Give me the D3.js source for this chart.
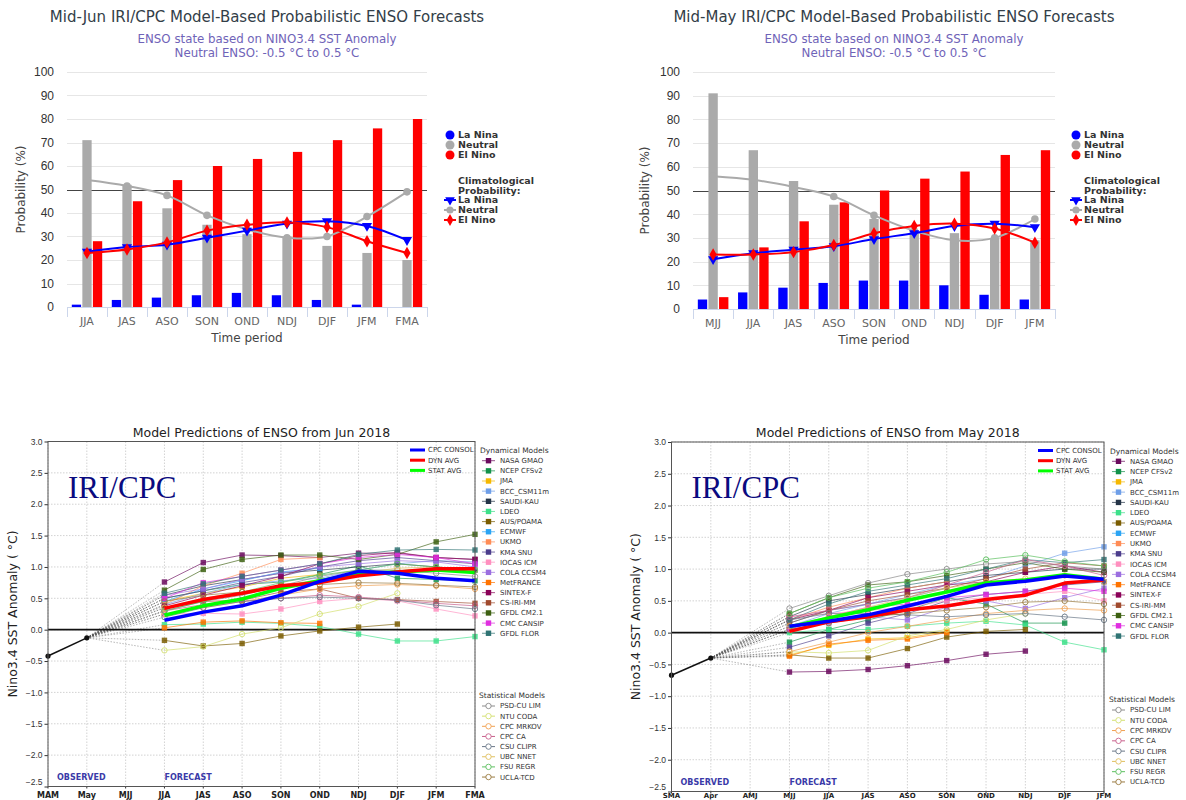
<!DOCTYPE html>
<html>
<head>
<meta charset="utf-8">
<script src="https://cdn.jsdelivr.net/npm/d3@7"></script>
<style>
  body { margin: 0; background: #fff; }
  svg { display: block; }
</style>
</head>
<body>
<script>
// ---------------- data: probabilistic forecasts (top row) ----------------
var junPeriods = ["JJA","JAS","ASO","SON","OND","NDJ","DJF","JFM","FMA"];
var junLaNina  = [1, 3, 4, 5, 6, 5, 3, 1, 0];
var junNeutral = [71, 52, 42, 35, 31, 30, 26, 23, 20];
var junElNino  = [28, 45, 54, 60, 63, 66, 71, 76, 80];
var junClimLaNina  = [23.5, 25.5, 26.5, 29.5, 32.5, 35.5, 36.5, 34.5, 28.5];
var junClimNeutral = [54, 51.5, 47.5, 39, 33, 29.5, 30, 38.5, 49];
var junClimElNino  = [23, 24.5, 27.5, 32.5, 35, 36, 34, 28, 23];

var mayPeriods = ["MJJ","JJA","JAS","ASO","SON","OND","NDJ","DJF","JFM"];
var mayLaNina  = [4, 7, 9, 11, 12, 12, 10, 6, 4];
var mayNeutral = [91, 67, 54, 44, 38, 33, 32, 30, 29];
var mayElNino  = [5, 26, 37, 45, 50, 55, 58, 65, 67];
var mayClimLaNina  = [21, 23.5, 25, 26.5, 29.5, 32, 35, 36, 34.5];
var mayClimNeutral = [56, 54.5, 51.5, 47.5, 39.5, 33, 29, 30, 38];
var mayClimElNino  = [23, 23, 24, 27, 32, 35, 36, 34, 28];

// ---------------- data: model plumes (bottom row) ----------------
var junSeasons  = ["MAM","May","MJJ","JJA","JAS","ASO","SON","OND","NDJ","DJF","JFM","FMA"];
var junObserved = [-0.42, -0.13];
var junConsol   = [0.15, 0.28, 0.38, 0.55, 0.77, 0.93, 0.90, 0.82, 0.78];
var junDynAvg   = [0.34, 0.48, 0.58, 0.70, 0.75, 0.86, 0.92, 0.97, 0.97];
var junStatAvg  = [0.23, 0.38, 0.49, 0.66, 0.78, 0.89, 0.92, 0.95, 0.91];

var maySeasons  = ["SMA","Apr","AMJ","MJJ","JJA","JAS","ASO","SON","OND","NDJ","DJF","JFM"];
var mayObserved = [-0.67, -0.40];
var mayConsol   = [0.10, 0.18, 0.28, 0.42, 0.57, 0.75, 0.81, 0.89, 0.84];
var mayDynAvg   = [0.02, 0.17, 0.25, 0.36, 0.42, 0.52, 0.59, 0.78, 0.83];
var mayStatAvg  = [0.09, 0.23, 0.36, 0.51, 0.64, 0.78, 0.83, 0.91, 0.84];

var dynModels = ["NASA GMAO","NCEP CFSv2","JMA","BCC_CSM11m","SAUDI-KAU","LDEO","AUS/POAMA","ECMWF","UKMO",
                 "KMA SNU","IOCAS ICM","COLA CCSM4","MetFRANCE","SINTEX-F","CS-IRI-MM","GFDL CM2.1","CMC CANSIP","GFDL FLOR"];
var statModels = ["PSD-CU LIM","NTU CODA","CPC MRKOV","CPC CA","CSU CLIPR","UBC NNET","FSU REGR","UCLA-TCD"];

// one row per model, same order as the names above (null = no forecast)
var junDynRuns = [
  [0.76, 1.07, 1.19, 1.18, 1.15, 1.22, 1.22, 1.15, 1.12],
  [0.50, 0.62, 0.72, 0.76, 0.88, 1.02, 0.82, 0.80, 0.78],
  [0.45, 0.58, 0.68, 0.82, 0.88, null, null, null, null],
  [0.40, 0.58, 0.72, 0.78, 0.82, 0.95, 1.05, 1.10, 1.08],
  [0.55, 0.70, 0.80, 0.90, 0.95, 1.00, 1.05, 1.00, 0.95],
  [0.08, 0.09, 0.12, 0.10, 0.05, -0.07, -0.18, -0.18, -0.11],
  [-0.17, -0.26, -0.22, -0.10, -0.02, 0.04, 0.09, null, null],
  [0.45, 0.65, 0.78, 0.92, 0.98, null, null, null, null],
  [0.40, 0.70, 0.90, 1.12, 1.15, null, null, null, null],
  [0.50, 0.62, 0.75, 0.85, 1.00, 1.10, 1.15, 1.10, 1.05],
  [0.25, 0.26, 0.25, 0.33, 0.45, 0.50, 0.46, 0.33, 0.22],
  [0.55, 0.65, 0.80, 0.90, 1.00, 1.05, 1.10, 1.08, 1.00],
  [0.03, 0.12, 0.14, 0.11, 0.10, null, null, null, null],
  [0.38, 0.55, 0.70, 0.85, 1.05, 1.18, 1.23, 1.15, 1.12],
  [0.35, 0.45, 0.47, 0.60, 0.65, 0.50, 0.48, 0.45, 0.42],
  [0.63, 0.96, 1.12, 1.19, 1.19, 1.12, 1.20, 1.40, 1.52],
  [0.50, 0.75, 0.85, 0.95, 1.05, 1.15, 1.20, 1.15, 1.05],
  [0.58, 0.73, 0.85, 0.95, 1.05, 1.20, 1.27, 1.28, 1.27]
];
var junStatRuns = [
  [0.30, 0.45, 0.55, 0.70, 0.85, 0.95, 0.95, 0.90, 0.85],
  [-0.33, -0.27, -0.07, 0.03, 0.25, 0.37, 0.58, null, null],
  [0.25, 0.35, 0.45, 0.55, 0.65, 0.70, 0.72, 0.70, 0.65],
  [0.30, 0.40, 0.45, 0.50, 0.55, 0.52, 0.47, 0.42, 0.38],
  [0.20, 0.35, 0.45, 0.50, 0.52, 0.50, 0.47, 0.39, 0.33],
  [0.35, 0.50, 0.60, 0.70, 0.80, 0.90, 0.98, 1.00, 0.95],
  [0.30, 0.45, 0.60, 0.75, 0.87, 0.95, 1.05, 1.00, 0.95],
  [0.45, 0.55, 0.60, 0.70, 0.72, 0.75, 0.74, 0.71, 0.68]
];
var mayDynRuns = [
  [-0.62, -0.61, -0.58, -0.52, -0.44, -0.34, -0.29, null, null],
  [-0.15, 0.05, 0.20, 0.35, 0.55, 0.45, 0.15, 0.15, null],
  [-0.35, -0.20, -0.10, -0.08, 0.02, null, null, null, null],
  [0.10, 0.30, 0.45, 0.60, 0.75, 0.85, 1.05, 1.25, 1.35],
  [0.25, 0.50, 0.60, 0.70, 0.80, 0.90, 0.95, 1.00, 1.00],
  [0.00, 0.05, 0.05, 0.10, 0.15, 0.18, 0.12, -0.15, -0.27],
  [-0.35, -0.40, -0.40, -0.25, -0.07, 0.02, 0.05, null, null],
  [0.15, 0.35, 0.45, 0.55, 0.70, null, null, null, null],
  [0.20, 0.40, 0.55, 0.70, 0.80, null, null, null, null],
  [-0.23, -0.05, 0.15, 0.30, 0.50, 0.60, 0.65, 0.75, 0.80],
  [0.25, 0.30, 0.35, 0.40, 0.50, 0.55, 0.60, 0.65, 0.50],
  [0.05, 0.15, 0.25, 0.20, 0.40, 0.50, 0.38, 0.55, 0.70],
  [-0.37, -0.18, -0.12, -0.10, 0.00, null, null, null, null],
  [0.20, 0.35, 0.55, 0.65, 0.75, 0.80, 0.95, 1.05, 0.95],
  [0.15, 0.35, 0.50, 0.60, 0.70, 0.85, 1.00, 1.10, 1.05],
  [0.30, 0.55, 0.75, 0.80, 0.90, 1.00, 1.10, 1.00, 0.95],
  [0.05, 0.25, 0.40, 0.45, 0.55, 0.60, 0.65, 0.70, 0.65],
  [0.20, 0.45, 0.65, 0.75, 0.85, 1.00, 1.15, 1.10, 1.15]
];
var mayStatRuns = [
  [0.38, 0.58, 0.78, 0.92, 1.00, 1.08, 1.12, 1.05, 1.00],
  [-0.30, -0.32, -0.28, -0.05, 0.05, 0.20, 0.30, null, null],
  [-0.30, -0.15, 0.00, 0.10, 0.20, 0.30, 0.35, 0.38, 0.35],
  [0.25, 0.35, 0.45, 0.55, 0.75, 0.95, 1.15, 1.05, 0.90],
  [0.20, 0.30, 0.30, 0.28, 0.25, 0.28, 0.30, 0.25, 0.20],
  [0.10, 0.25, 0.40, 0.55, 0.70, 0.80, 0.85, 0.90, 0.80],
  [0.30, 0.55, 0.70, 0.80, 0.95, 1.15, 1.22, 1.12, 1.05],
  [0.05, 0.15, 0.25, 0.30, 0.35, 0.40, 0.48, 0.50, 0.45]
];

// colours (kept apart from the values)
var dynColors  = ["#6b0a5e","#12914a","#f5b800","#6e9ee8","#243447","#3de08a","#7a5c00","#2aa4f4","#ff8c55",
                  "#4b3c8c","#ff8fbf","#9b6ee0","#ff7300","#8a0057","#a0492d","#3c6010","#e02ee0","#2f7373"];
var statColors = ["#8a8a8a","#d4e070","#f0a050","#c8608c","#6a7888","#e0c060","#5cc060","#9a7a40"];

(function(){

var svg = d3.select("body").append("svg")
    .attr("width", 1186)
    .attr("height", 800);

// top row
drawProbChart({
  periods: junPeriods, laNina: junLaNina, neutral: junNeutral, elNino: junElNino,
  climLaNina: junClimLaNina, climNeutral: junClimNeutral, climElNino: junClimElNino,
  title: "Mid-Jun IRI/CPC Model-Based Probabilistic ENSO Forecasts",
  left: 67, right: 427, top: 72, bottom: 307, titleX: 267, yTitleX: 21, legendX: 450
});
drawProbChart({
  periods: mayPeriods, laNina: mayLaNina, neutral: mayNeutral, elNino: mayElNino,
  climLaNina: mayClimLaNina, climNeutral: mayClimNeutral, climElNino: mayClimElNino,
  title: "Mid-May IRI/CPC Model-Based Probabilistic ENSO Forecasts",
  left: 693, right: 1055, top: 72, bottom: 309, titleX: 894, yTitleX: 645, legendX: 1076
});

// bottom row
drawPlume({
  seasons: junSeasons, observed: junObserved, consol: junConsol, dynAvg: junDynAvg, statAvg: junStatAvg,
  dynRuns: junDynRuns, statRuns: junStatRuns,
  title: "Model Predictions of ENSO from Jun 2018",
  left: 48, right: 475, top: 441.5, bottom: 786.5, yTitleX: 13, xLabelY: 797.5, xLabelSize: 8,
  avgLegX: 410, modLegX: 480, dynTop: 460.7, dynStep: 10.15, statTitleY: 695.3, statTop: 706
});
drawPlume({
  seasons: maySeasons, observed: mayObserved, consol: mayConsol, dynAvg: mayDynAvg, statAvg: mayStatAvg,
  dynRuns: mayDynRuns, statRuns: mayStatRuns,
  title: "Model Predictions of ENSO from May 2018",
  left: 671.5, right: 1104, top: 442, bottom: 791.5, yTitleX: 636, xLabelY: 798, xLabelSize: 7,
  avgLegX: 1038, modLegX: 1110, dynTop: 461.3, dynStep: 10.28, statTitleY: 699.3, statTop: 710
});

// ---------- Highcharts-looking probability chart ----------
function drawProbChart(c){
  var g = svg.append("g").style("font-family", "'DejaVu Sans', sans-serif");
  var series = ["La Nina","Neutral","El Nino"];
  var colors = {"La Nina": "#0000ff", "Neutral": "#aaaaaa", "El Nino": "#ff0000"};

  var x0 = d3.scaleBand().domain(c.periods).range([c.left, c.right]);
  var bw = x0.bandwidth();
  var x1 = d3.scaleBand().domain(series).range([bw * 0.12, bw * 0.88]).paddingInner(0.12);
  var y = d3.scaleLinear().domain([0, 100]).range([c.bottom, c.top]);

  // titles
  g.append("text").attr("x", c.titleX).attr("y", 22).attr("text-anchor", "middle")
    .style("font-size", "15px").style("fill", "#333e48").text(c.title);
  g.append("text").attr("x", c.titleX).attr("y", 43).attr("text-anchor", "middle")
    .style("font-size", "11.8px").style("fill", "#6f63b8").text("ENSO state based on NINO3.4 SST Anomaly");
  g.append("text").attr("x", c.titleX).attr("y", 57).attr("text-anchor", "middle")
    .style("font-size", "11.8px").style("fill", "#6f63b8").text("Neutral ENSO: -0.5 °C to 0.5 °C");

  // gridlines (50% line is darker)
  g.selectAll(".grid").data(y.ticks(10)).enter().append("line")
    .attr("x1", c.left).attr("x2", c.right)
    .attr("y1", function(d){ return Math.round(y(d)) + 0.5; })
    .attr("y2", function(d){ return Math.round(y(d)) + 0.5; })
    .attr("stroke", function(d){ return d == 50 ? "#444" : "#e6e6e6"; })
    .attr("stroke-width", function(d){ return d == 50 ? 1.2 : 1; });

  // y axis labels
  var yAxis = g.append("g").attr("transform", "translate(" + c.left + ",0)")
    .call(d3.axisLeft(y).ticks(10).tickSize(0).tickPadding(13));
  yAxis.select(".domain").remove();
  yAxis.selectAll("text").style("font-size", "12px").style("fill", "#333").style("font-family", "inherit");

  g.append("text")
    .attr("transform", "translate(" + c.yTitleX + "," + (c.top + c.bottom) / 2 + ") rotate(-90)")
    .attr("text-anchor", "middle").attr("dy", "0.35em")
    .style("font-size", "12px").style("fill", "#444").text("Probability (%)");

  // bars
  var barData = {"La Nina": c.laNina, "Neutral": c.neutral, "El Nino": c.elNino};
  series.forEach(function(s){
    g.selectAll(".bar" + s.replace(" ", "")).data(barData[s]).enter().append("rect")
      .attr("x", function(d, i){ return x0(c.periods[i]) + x1(s); })
      .attr("width", x1.bandwidth())
      .attr("y", function(d){ return y(d); })
      .attr("height", function(d){ return c.bottom - y(d); })
      .attr("fill", colors[s]);
  });

  // x axis
  g.append("line").attr("x1", c.left).attr("x2", c.right)
    .attr("y1", c.bottom + 0.5).attr("y2", c.bottom + 0.5).attr("stroke", "#ccd6eb");
  var bounds = c.periods.map(function(p){ return x0(p); }).concat([c.right]);
  g.selectAll(".xtick").data(bounds).enter().append("line")
    .attr("x1", function(d){ return Math.round(d) + 0.5; }).attr("x2", function(d){ return Math.round(d) + 0.5; })
    .attr("y1", c.bottom).attr("y2", c.bottom + 10).attr("stroke", "#ccd6eb");
  g.selectAll(".xlab").data(c.periods).enter().append("text")
    .attr("x", function(d){ return x0(d) + bw / 2; }).attr("y", c.bottom + 18)
    .attr("text-anchor", "middle").style("font-size", "11px").style("fill", "#666").text(function(d){ return d; });
  g.append("text").attr("x", (c.left + c.right) / 2).attr("y", c.bottom + 35)
    .attr("text-anchor", "middle").style("font-size", "12px").style("fill", "#444").text("Time period");

  // climatological splines
  var cx = function(d, i){ return x0(c.periods[i]) + bw / 2; };
  var line = d3.line().x(cx).y(function(d){ return y(d); }).curve(d3.curveCatmullRom);
  var clim = [
    {vals: c.climNeutral, color: "#aaaaaa", sym: d3.symbolCircle, rot: 0},
    {vals: c.climLaNina, color: "#0000ff", sym: d3.symbolTriangle, rot: 180},
    {vals: c.climElNino, color: "#ff0000", sym: d3.symbolDiamond, rot: 0}
  ];
  clim.forEach(function(s){
    g.append("path").datum(s.vals).attr("d", line)
      .attr("fill", "none").attr("stroke", s.color).attr("stroke-width", 2);
    g.selectAll(null).data(s.vals).enter().append("path")
      .attr("d", d3.symbol().type(s.sym).size(45))
      .attr("transform", function(d, i){ return "translate(" + cx(d, i) + "," + y(d) + ") rotate(" + s.rot + ")"; })
      .attr("fill", s.color);
  });

  // legend
  var lx = c.legendX, tx = c.legendX + 8;
  var leg = g.append("g").style("font-size", "9.5px").style("font-weight", "bold").style("fill", "#333");
  series.forEach(function(s, i){
    leg.append("circle").attr("cx", lx).attr("cy", 135 + i * 10).attr("r", 4.5).attr("fill", colors[s]);
    leg.append("text").attr("x", tx).attr("y", 135 + i * 10).attr("dy", "0.35em").text(s);
  });
  leg.append("text").attr("x", tx).attr("y", 181).attr("dy", "0.35em").text("Climatological");
  leg.append("text").attr("x", tx).attr("y", 191).attr("dy", "0.35em").text("Probability:");
  var legClim = [clim[1], clim[0], clim[2]];
  series.forEach(function(s, i){
    var yy = 200 + i * 10;
    leg.append("line").attr("x1", lx - 6).attr("x2", lx + 6).attr("y1", yy).attr("y2", yy)
      .attr("stroke", legClim[i].color).attr("stroke-width", 2);
    leg.append("path").attr("d", d3.symbol().type(legClim[i].sym).size(40))
      .attr("transform", "translate(" + lx + "," + yy + ") rotate(" + legClim[i].rot + ")")
      .attr("fill", legClim[i].color);
    leg.append("text").attr("x", tx).attr("y", yy).attr("dy", "0.35em").text(s);
  });
}

// ---------- matplotlib-looking model plume ----------
function drawPlume(c){
  var g = svg.append("g").style("font-family", "'DejaVu Sans', sans-serif");
  var x = d3.scalePoint().domain(c.seasons).range([c.left, c.right]);
  var y = d3.scaleLinear().domain([-2.5, 3]).range([c.bottom, c.top]);
  var yTicks = d3.range(-2.5, 3.01, 0.5);
  var fc = c.seasons.slice(3);

  // dotted grid
  g.selectAll(".vg").data(c.seasons).enter().append("line")
    .attr("x1", function(d){ return x(d); }).attr("x2", function(d){ return x(d); })
    .attr("y1", c.top).attr("y2", c.bottom)
    .attr("stroke", "#c8c8c8").attr("stroke-width", 0.8).attr("stroke-dasharray", "1.5,1.5");
  g.selectAll(".hg").data(yTicks).enter().append("line")
    .attr("x1", c.left).attr("x2", c.right)
    .attr("y1", function(d){ return y(d); }).attr("y2", function(d){ return y(d); })
    .attr("stroke", "#c8c8c8").attr("stroke-width", 0.8).attr("stroke-dasharray", "1.5,1.5");

  // axes
  var ya = g.append("g").attr("transform", "translate(" + c.left + ",0)")
    .call(d3.axisLeft(y).tickValues(yTicks).tickFormat(d3.format(".1f")).tickSize(3.5).tickPadding(2));
  ya.select(".domain").remove();
  ya.selectAll("text").style("font-size", "8.5px").style("fill", "#333").style("font-family", "inherit");
  ya.selectAll("line").attr("stroke", "#333");
  // lift the lowest label a little so it clears the first season label
  ya.selectAll(".tick").filter(function(d){ return d == -2.5; }).select("text").attr("dy", "-0.25em");

  // season labels (the bottom edge of the picture is tight, so they sit close to the frame)
  g.selectAll(".xl").data(c.seasons).enter().append("text")
    .attr("x", function(d){ return x(d); }).attr("y", c.xLabelY)
    .attr("text-anchor", "middle").style("font-size", c.xLabelSize + "px").style("font-weight", "bold")
    .style("fill", "#222").text(function(d){ return d; });
  g.selectAll(".xt").data(c.seasons).enter().append("line")
    .attr("x1", function(d){ return x(d); }).attr("x2", function(d){ return x(d); })
    .attr("y1", c.bottom).attr("y2", c.bottom + 2).attr("stroke", "#333");

  g.append("text")
    .attr("transform", "translate(" + c.yTitleX + "," + (c.top + c.bottom) / 2 + ") rotate(-90)")
    .attr("text-anchor", "middle").attr("dy", "0.35em")
    .style("font-size", "12.5px").style("fill", "#222").text("Nino3.4 SST Anomaly ( °C)");
  g.append("text").attr("x", (c.left + c.right) / 2).attr("y", c.top - 5)
    .attr("text-anchor", "middle").style("font-size", "12.5px").style("fill", "#222").text(c.title);

  g.append("text").attr("x", c.left + 20).attr("y", c.top + 56)
    .style("font-family", "'Liberation Serif', serif").style("font-size", "31px").style("fill", "#0a0a80")
    .text("IRI/CPC");
  g.append("text").attr("x", c.left + 9).attr("y", c.bottom - 7)
    .style("font-size", "8px").style("font-weight", "bold").style("fill", "#3a3aa8").text("OBSERVED");
  g.append("text").attr("x", x(c.seasons[3])).attr("y", c.bottom - 7)
    .style("font-size", "8px").style("font-weight", "bold").style("fill", "#3a3aa8").text("FORECAST");

  // connectors from last observation to each model's first season
  var ox = x(c.seasons[1]), oy = y(c.observed[1]);
  var allRuns = c.dynRuns.concat(c.statRuns);
  g.selectAll(".conn").data(allRuns).enter().append("line")
    .attr("x1", ox).attr("y1", oy)
    .attr("x2", x(fc[0])).attr("y2", function(d){ return y(d[0]); })
    .attr("stroke", "#555").attr("stroke-width", 0.6).attr("stroke-dasharray", "1.5,1.5").attr("opacity", 0.7);

  // zero line
  g.append("line").attr("x1", c.left).attr("x2", c.right).attr("y1", y(0)).attr("y2", y(0))
    .attr("stroke", "#111").attr("stroke-width", 1.8);

  var line = d3.line().defined(function(d){ return d != null; })
    .x(function(d, i){ return x(fc[i]); }).y(function(d){ return y(d); });

  c.dynRuns.forEach(function(run, k){
    g.append("path").datum(run).attr("d", line).attr("fill", "none")
      .attr("stroke", dynColors[k]).attr("stroke-width", 1).attr("opacity", 0.65);
    g.selectAll(null).data(run.map(function(v, i){ return [i, v]; }).filter(function(p){ return p[1] != null; }))
      .enter().append("rect")
      .attr("x", function(p){ return x(fc[p[0]]) - 2.7; }).attr("y", function(p){ return y(p[1]) - 2.7; })
      .attr("width", 5.4).attr("height", 5.4).attr("fill", dynColors[k]).attr("opacity", 0.85);
  });
  c.statRuns.forEach(function(run, k){
    g.append("path").datum(run).attr("d", line).attr("fill", "none")
      .attr("stroke", statColors[k]).attr("stroke-width", 1).attr("opacity", 0.7);
    g.selectAll(null).data(run.map(function(v, i){ return [i, v]; }).filter(function(p){ return p[1] != null; }))
      .enter().append("circle")
      .attr("cx", function(p){ return x(fc[p[0]]); }).attr("cy", function(p){ return y(p[1]); })
      .attr("r", 2.7).attr("fill", "none").attr("stroke", statColors[k]).attr("stroke-width", 0.9);
  });

  // averages
  var avgs = [
    {name: "STAT AVG", vals: c.statAvg, color: "#00ff00"},
    {name: "DYN AVG", vals: c.dynAvg, color: "#ff0000"},
    {name: "CPC CONSOL", vals: c.consol, color: "#0000ff"}
  ];
  avgs.forEach(function(a){
    g.append("path").datum(a.vals).attr("d", line).attr("fill", "none")
      .attr("stroke", a.color).attr("stroke-width", 3.5).attr("stroke-linejoin", "round");
  });

  // observed
  var obs = c.observed.map(function(v, i){ return [x(c.seasons[i]), y(v)]; });
  g.append("path").attr("d", d3.line()(obs)).attr("stroke", "#111").attr("stroke-width", 1.5).attr("fill", "none");
  g.selectAll(".obs").data(obs).enter().append("circle")
    .attr("cx", function(d){ return d[0]; }).attr("cy", function(d){ return d[1]; }).attr("r", 2.6).attr("fill", "#111");

  // frame
  g.append("rect").attr("x", c.left).attr("y", c.top).attr("width", c.right - c.left).attr("height", c.bottom - c.top)
    .attr("fill", "none").attr("stroke", "#555").attr("stroke-width", 1);

  // legend for averages (inside plot, top right)
  var leg = g.append("g").style("font-size", "7px").style("fill", "#333");
  [avgs[2], avgs[1], avgs[0]].forEach(function(a, i){
    var yy = c.top + 8.5 + i * 10.2;
    leg.append("line").attr("x1", c.avgLegX).attr("x2", c.avgLegX + 15).attr("y1", yy).attr("y2", yy)
      .attr("stroke", a.color).attr("stroke-width", 3);
    leg.append("text").attr("x", c.avgLegX + 18).attr("y", yy).attr("dy", "0.35em").text(a.name);
  });

  // model legends to the right
  var mx = c.modLegX;
  leg.append("text").attr("x", mx).attr("y", c.top + 9).attr("dy", "0.35em").style("font-size", "7.5px").text("Dynamical Models");
  dynModels.forEach(function(name, i){
    var yy = c.dynTop + i * c.dynStep;
    leg.append("line").attr("x1", mx + 2).attr("x2", mx + 15).attr("y1", yy).attr("y2", yy)
      .attr("stroke", dynColors[i]).attr("stroke-width", 1).attr("opacity", 0.7);
    leg.append("rect").attr("x", mx + 5.8).attr("y", yy - 2.7).attr("width", 5.4).attr("height", 5.4).attr("fill", dynColors[i]);
    leg.append("text").attr("x", mx + 20).attr("y", yy).attr("dy", "0.35em").text(name);
  });
  leg.append("text").attr("x", mx - 1).attr("y", c.statTitleY).attr("dy", "0.35em").style("font-size", "7.5px").text("Statistical Models");
  statModels.forEach(function(name, i){
    var yy = c.statTop + i * c.dynStep;
    leg.append("line").attr("x1", mx + 2).attr("x2", mx + 15).attr("y1", yy).attr("y2", yy)
      .attr("stroke", statColors[i]).attr("stroke-width", 1);
    leg.append("circle").attr("cx", mx + 8.5).attr("cy", yy).attr("r", 2.7)
      .attr("fill", "#fff").attr("stroke", statColors[i]).attr("stroke-width", 0.9);
    leg.append("text").attr("x", mx + 20).attr("y", yy).attr("dy", "0.35em").text(name);
  });
}

})();
</script>
</body>
</html>
